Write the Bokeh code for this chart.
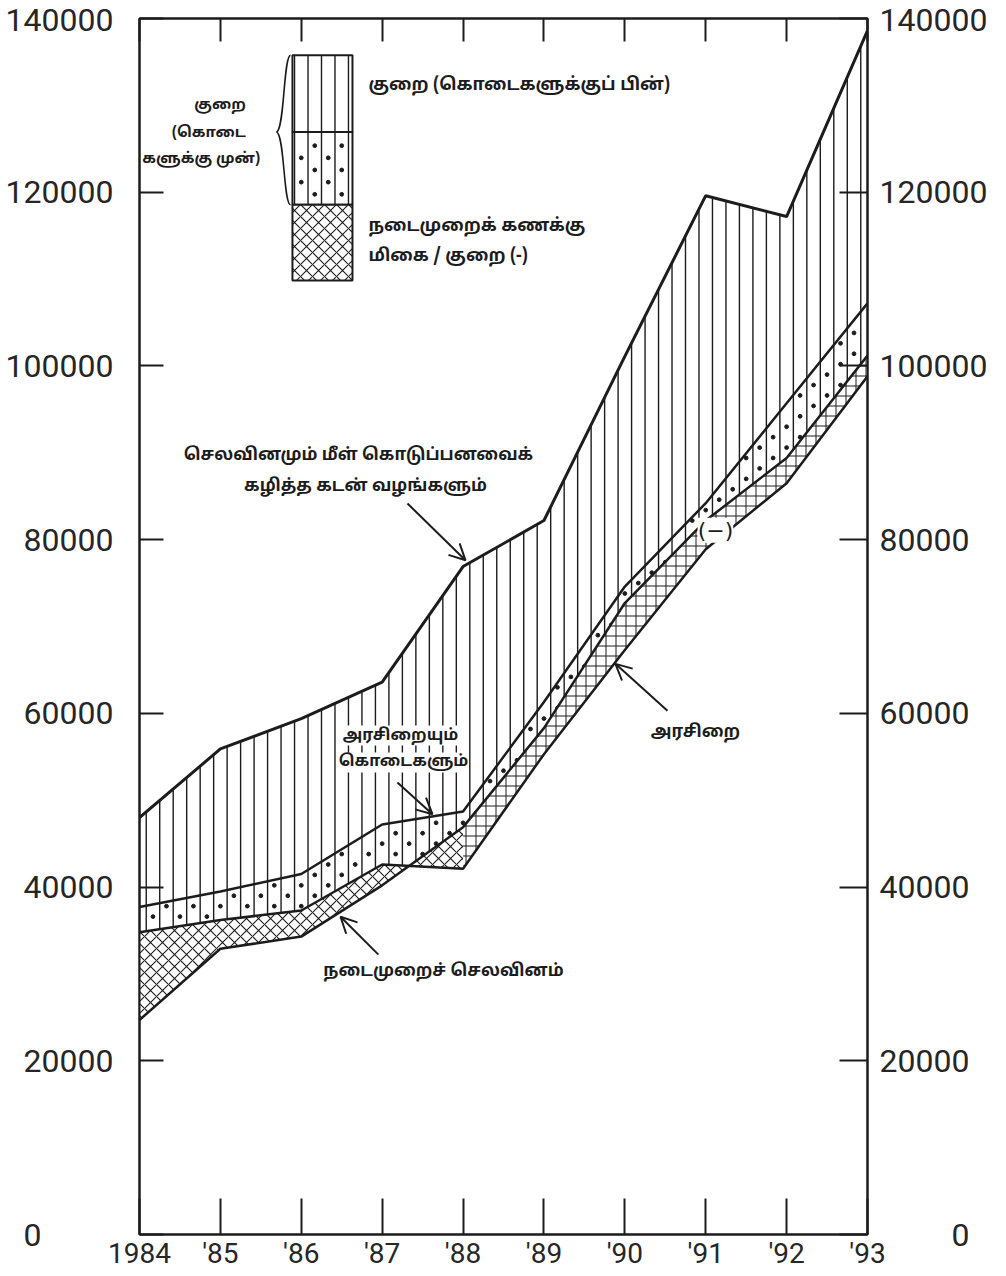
import numpy as np
from bokeh.plotting import figure
from bokeh.models import (Range1d, FixedTicker, LinearAxis, Label, Arrow, OpenHead)
from bokeh.embed import file_html
from bokeh.resources import INLINE

# ---------------- data (Rs. million) ----------------
years = [1984, 1985, 1986, 1987, 1988, 1989, 1990, 1991, 1992, 1993]
year_labels = ["1984", "'85", "'86", "'87", "'88", "'89", "'90", "'91", "'92", "'93"]
# expenditure and lending minus repayments
total_exp = [48000, 55900, 59400, 63600, 76900, 82200, 101100, 119600, 117200, 138600]
# revenue and grants
rev_grants = [37700, 39500, 41500, 47200, 48700, 61300, 74600, 84200, 95700, 107200]
# revenue
revenue = [34800, 36200, 37300, 42600, 42100, 55300, 67300, 78900, 86500, 98800]
# current expenditure
current_exp = [24700, 32900, 34300, 40200, 46900, 58300, 72700, 82200, 89400, 101200]

y_ticks = [0, 20000, 40000, 60000, 80000, 100000, 120000, 140000]
y_tick_labels = ["20000", "40000", "60000", "80000", "100000", "120000", "140000"]

INK = "#1c1c1c"
TAMIL = "Noto Sans Tamil, Noto Sans"
NUMF = "Roboto"
FS = "\u2007"  # figure space, keeps the lone "0" aligned like the original

# ---------------- figure ----------------
p = figure(width=1000, height=1272,
           x_range=Range1d(1984, 1993), y_range=Range1d(0, 140000),
           output_backend="svg", toolbar_location=None,
           min_border_left=139, min_border_right=133,
           min_border_top=18, min_border_bottom=38)
p.xgrid.visible = False
p.ygrid.visible = False
p.outline_line_color = INK
p.outline_line_width = 2
p.background_fill_color = "white"
p.border_fill_color = "white"

# ---------------- hatching of the deficit bands ----------------
step = 1.0 / 6.0
hx = np.arange(years[0] + step / 2, years[-1], step)
p.segment(x0=hx, y0=np.interp(hx, years, revenue),
          x1=hx, y1=np.interp(hx, years, total_exp),
          line_color=INK, line_width=1.4)

dy = 2400.0
dx_list, dy_list = [], []
for k, cx in enumerate(hx[:-1] + step / 2):
    lo = np.interp(cx, years, revenue) + 350
    hi = np.interp(cx, years, rev_grants) - 350
    ys = np.arange((k % 2) * dy / 2 + 600, 140000, dy)
    ys = ys[(ys > lo) & (ys < hi)]
    dx_list += [cx] * len(ys)
    dy_list += list(ys)
p.scatter(dx_list, dy_list, size=3.8, color=INK, marker="circle")

# current account band (surplus / deficit)
p.varea(x=years[:5], y1=revenue[:5], y2=current_exp[:5], fill_color="white",
        hatch_pattern="diagonal_cross", hatch_scale=12, hatch_weight=1.1, hatch_color=INK)
p.varea(x=years[4:], y1=revenue[4:], y2=current_exp[4:], fill_color="white",
        hatch_pattern="cross", hatch_scale=10, hatch_weight=1.0, hatch_color=INK)

# lines
p.line(years, total_exp, line_color=INK, line_width=3)
p.line(years, rev_grants, line_color=INK, line_width=2.5)
p.line(years, revenue, line_color=INK, line_width=2.5)
p.line(years, current_exp, line_color=INK, line_width=2.5)

# ---------------- axes ----------------
def style_axis(ax, tick_in, font_size, standoff):
    ax.axis_line_color = INK
    ax.axis_line_width = 2
    ax.major_tick_line_color = INK
    ax.major_tick_line_width = 2
    ax.major_tick_in = tick_in
    ax.major_tick_out = 0
    ax.minor_tick_in = 0
    ax.minor_tick_out = 0
    ax.major_label_text_font = NUMF
    ax.major_label_text_font_size = font_size
    ax.major_label_text_color = "#262626"
    ax.major_label_standoff = standoff

left_labels = dict(zip(y_ticks, ["0" + FS * 4] + y_tick_labels))
right_labels = dict(zip(y_ticks, [FS * 4 + "0"] + y_tick_labels))

yl = p.yaxis[0]
yl.ticker = FixedTicker(ticks=y_ticks)
yl.major_label_overrides = left_labels
style_axis(yl, 24, "32px", 26)

yr = LinearAxis(ticker=FixedTicker(ticks=y_ticks), major_label_overrides=right_labels)
style_axis(yr, 28, "32px", 12)
p.add_layout(yr, "right")

xb = p.xaxis[0]
xb.ticker = FixedTicker(ticks=years)
xb.major_label_overrides = dict(zip(years, year_labels))
style_axis(xb, 36, "28px", 2)

xt = LinearAxis(ticker=FixedTicker(ticks=years),
                major_label_overrides={y: "" for y in years})
style_axis(xt, 23, "0px", 0)
p.add_layout(xt, "above")

# ---------------- key box ----------------
kx0, kx1 = 1985.891, 1986.633
ky = [135760, 126930, 118560, 109840]
kh = hx[(hx > kx0 + 0.02) & (hx < kx1 - 0.02)]
p.segment(x0=kh, y0=[ky[2]] * len(kh), x1=kh, y1=[ky[0]] * len(kh),
          line_color=INK, line_width=1.4)
kdx, kdy = [], []
for k, cx in enumerate(np.concatenate([[kh[0] - step / 2], kh + step / 2])):
    if cx <= kx0 or cx >= kx1:
        continue
    ys = np.arange(ky[2] + 1200 + (k % 2) * 1400, ky[1] - 700, 2800)
    kdx += [cx] * len(ys)
    kdy += list(ys)
p.scatter(kdx, kdy, size=3.8, color=INK, marker="circle")
p.quad(left=[kx0, kx0], right=[kx1, kx1], top=[ky[0], ky[1]], bottom=[ky[1], ky[2]],
       fill_alpha=0, line_color=INK, line_width=2)
p.quad(left=[kx0], right=[kx1], top=[ky[2]], bottom=[ky[3]], fill_color="white",
       hatch_pattern="diagonal_cross", hatch_scale=12, hatch_weight=1.1, hatch_color=INK,
       line_color=INK, line_width=2)

# brace
p.bezier(x0=[1985.867, 1985.694], y0=[135760, 126930],
         x1=[1985.694, 1985.867], y1=[126930, 118560],
         cx0=[1985.780, 1985.793], cy0=[135760, 126700],
         cx1=[1985.793, 1985.780], cy1=[127160, 118560],
         line_color=INK, line_width=1.6)


def tlabel(x, y, text, align="left", size="17px", style="bold", font=TAMIL, bg=None):
    p.add_layout(Label(x=x, y=y, text=text, text_align=align, text_baseline="middle",
                       text_font=font, text_font_size=size, text_font_style=style,
                       text_color=INK, background_fill_color=bg))


tlabel(1986.831, 132320, "குறை (கொடைகளுக்குப் பின்)", size="17.5px")
tlabel(1986.831, 116040, "நடைமுறைக் கணக்கு", size="17.5px")
tlabel(1986.831, 112600, "மிகை / குறை (-)", size="17.5px")
tlabel(1985.315, 130020, "குறை", align="right", size="15px")
tlabel(1985.315, 126810, "(கொடை", align="right", size="15px")
tlabel(1984.035, 123720, "களுக்கு முன்)", align="left", size="15px")

# annotations
tlabel(1986.707, 89660, "செலவினமும் மீள் கொடுப்பனவைக்", align="center")
tlabel(1986.794, 86110, "கழித்த கடன் வழங்களும்", align="center")
tlabel(1987.226, 57440, "அரசிறையும்", align="center", size="16px", bg="white")
tlabel(1987.264, 54350, "கொடைகளும்", align="center", size="16px", bg="white")
tlabel(1990.873, 57790, "அரசிறை", align="center")
tlabel(1987.758, 30270, "நடைமுறைச் செலவினம்", align="center")
tlabel(1991.120, 81070, "(−)", align="center", size="22px", style="normal",
       font="DejaVu Sans", bg="white")


def arrow(xs, ys, xe, ye):
    p.add_layout(Arrow(end=OpenHead(size=16, line_width=2, line_color=INK),
                       x_start=xs, y_start=ys, x_end=xe, y_end=ye,
                       line_color=INK, line_width=2))


arrow(1987.313, 84160, 1988.030, 77620)
arrow(1987.189, 52050, 1987.622, 48390)
arrow(1990.527, 60310, 1989.884, 65700)
arrow(1986.954, 32220, 1986.485, 36580)

open("out.html", "w").write(file_html(p, INLINE))
